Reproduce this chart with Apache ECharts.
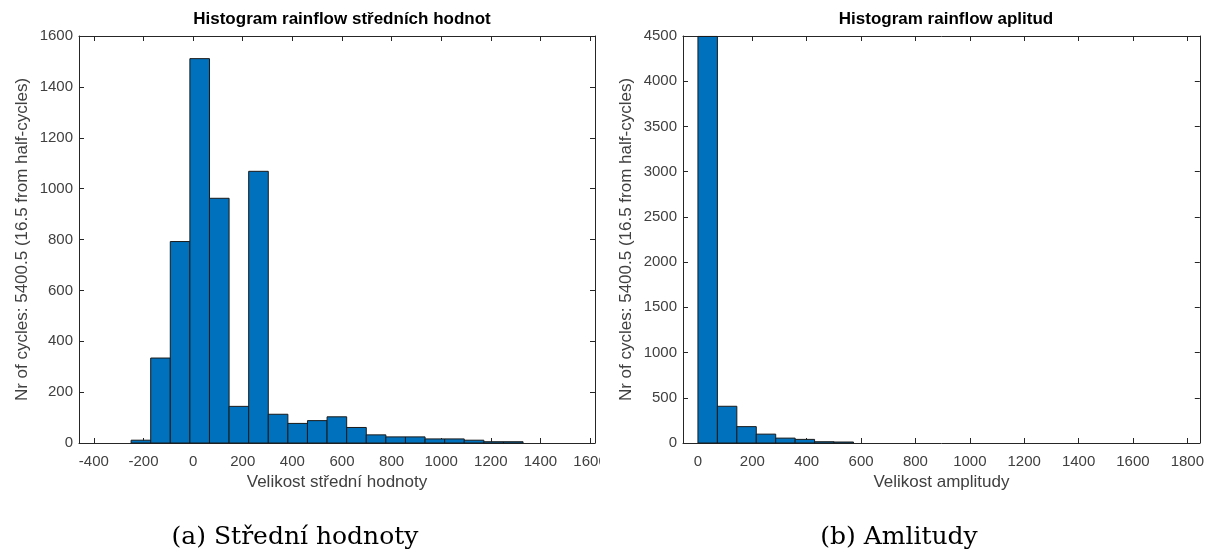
<!DOCTYPE html>
<html>
<head>
<meta charset="utf-8">
<script src="https://cdn.jsdelivr.net/npm/echarts@6/dist/echarts.min.js"></script>
<style>
    html, body { margin: 0; padding: 0; background: #fff; }
    #chart { width: 1207px; height: 556px; }
</style>
</head>
<body>
<div id="chart"></div>
<script>
    // histogram of mean values (bin edges + counts)
    var meanEdges = [-250, -171, -92, -13, 66, 145, 224, 303, 382, 461, 540, 619, 698, 777, 856, 935, 1014, 1093, 1172, 1251, 1330];
    var meanCounts = [11, 334, 792, 1511, 962, 144, 1068, 113, 77, 88, 103, 61, 32, 24, 24, 16, 16, 11, 5, 5];

    // histogram of amplitudes
    var ampEdges = [0, 71.5, 143, 214.5, 286, 357.5, 429, 500.5, 572];
    var ampCounts = [4495, 406, 181, 98, 54, 40, 14, 11];

    var titles = ['Histogram rainflow středních hodnot', 'Histogram rainflow aplitud'];
    var xNames = ['Velikost střední hodnoty', 'Velikost amplitudy'];
    var yName = 'Nr of cycles: 5400.5 (16.5 from half-cycles)';
    var captions = ['(a) Střední hodnoty', '(b) Amlitudy'];

    var FONT = 'Liberation Sans, Arial, sans-serif';
    var AXIS_COLOR = '#262626';
    var LABEL_COLOR = '#404040';

    function toBins(edges, counts) {
        var out = [];
        for (var i = 0; i < counts.length; i++) {
            out.push([edges[i], edges[i + 1], counts[i]]);
        }
        return out;
    }

    function renderBin(params, api) {
        var topLeft = api.coord([api.value(0), api.value(2)]);
        var bottomRight = api.coord([api.value(1), 0]);
        return {
            type: 'rect',
            shape: {
                x: topLeft[0],
                y: topLeft[1],
                width: bottomRight[0] - topLeft[0],
                height: bottomRight[1] - topLeft[1]
            },
            style: { fill: '#0072BD', stroke: '#1a1a1a', lineWidth: 1 }
        };
    }

    function plainNumber(v) {
        return String(v);
    }

    var lineStyle = { show: true, onZero: false, lineStyle: { color: AXIS_COLOR, width: 1 } };
    var tickStyle = { show: true, inside: true, length: 5, lineStyle: { color: AXIS_COLOR } };

    // one bottom/left axis with labels, one top/right axis as the box side
    function xAxisPair(gridIndex, min, max, splitNumber, name) {
        var base = {
            type: 'value', gridIndex: gridIndex, min: min, max: max, splitNumber: splitNumber,
            axisLine: lineStyle, axisTick: tickStyle, splitLine: { show: false }
        };
        var bottom = Object.assign({}, base, {
            position: 'bottom',
            name: name, nameLocation: 'middle', nameGap: 27,
            nameTextStyle: { fontFamily: FONT, fontSize: 17, color: LABEL_COLOR },
            axisLabel: { fontFamily: FONT, fontSize: 15, color: LABEL_COLOR, margin: 11,
                         showMinLabel: false, showMaxLabel: false, formatter: plainNumber }
        });
        var top = Object.assign({}, base, { position: 'top', axisLabel: { show: false } });
        return [bottom, top];
    }

    function yAxisPair(gridIndex, max, interval) {
        var base = {
            type: 'value', gridIndex: gridIndex, min: 0, max: max, interval: interval,
            axisLine: lineStyle, axisTick: tickStyle, splitLine: { show: false }
        };
        var left = Object.assign({}, base, {
            position: 'left',
            name: yName, nameLocation: 'middle', nameGap: 48, nameRotate: 90,
            nameTextStyle: { fontFamily: FONT, fontSize: 17, color: LABEL_COLOR },
            axisLabel: { fontFamily: FONT, fontSize: 15, color: LABEL_COLOR, margin: 6, formatter: plainNumber }
        });
        var right = Object.assign({}, base, { position: 'right', axisLabel: { show: false } });
        return [left, right];
    }

    var chart = echarts.init(document.getElementById('chart'), null, { renderer: 'canvas' });

    var captionFont = '25px "DejaVu Serif", "Liberation Serif", serif';

    var option = {
        animation: false,
        backgroundColor: '#fff',
        title: [
            { text: titles[0], left: 337, top: 6, textAlign: 'center',
              textStyle: { fontFamily: FONT, fontSize: 17, fontWeight: 'bold', color: '#000' } },
            { text: titles[1], left: 941, top: 6, textAlign: 'center',
              textStyle: { fontFamily: FONT, fontSize: 17, fontWeight: 'bold', color: '#000' } }
        ],
        grid: [
            { left: 79, right: 612, top: 36, bottom: 113 },
            { left: 683, right: 7, top: 36, bottom: 113 }
        ],
        xAxis: xAxisPair(0, -460, 1620, 10, xNames[0]).concat(xAxisPair(1, -55, 1846, 9, xNames[1])),
        yAxis: yAxisPair(0, 1600, 200).concat(yAxisPair(1, 4500, 500)),
        series: [
            { type: 'custom', xAxisIndex: 0, yAxisIndex: 0, renderItem: renderBin,
              encode: { x: [0, 1], y: 2 }, data: toBins(meanEdges, meanCounts) },
            { type: 'custom', xAxisIndex: 2, yAxisIndex: 2, renderItem: renderBin,
              encode: { x: [0, 1], y: 2 }, data: toBins(ampEdges, ampCounts) }
        ],
        graphic: [
            // the left figure is cropped at its right side, cutting the last tick label
            { type: 'rect', left: 600, top: 450, z: 100,
              shape: { width: 14, height: 24 }, style: { fill: '#fff' } },
            { type: 'text', x: 295, y: 537,
              style: { text: captions[0], font: captionFont, fill: '#000', align: 'center', verticalAlign: 'middle' } },
            { type: 'text', x: 899, y: 537,
              style: { text: captions[1], font: captionFont, fill: '#000', align: 'center', verticalAlign: 'middle' } }
        ]
    };

    chart.setOption(option);
</script>
</body>
</html>
